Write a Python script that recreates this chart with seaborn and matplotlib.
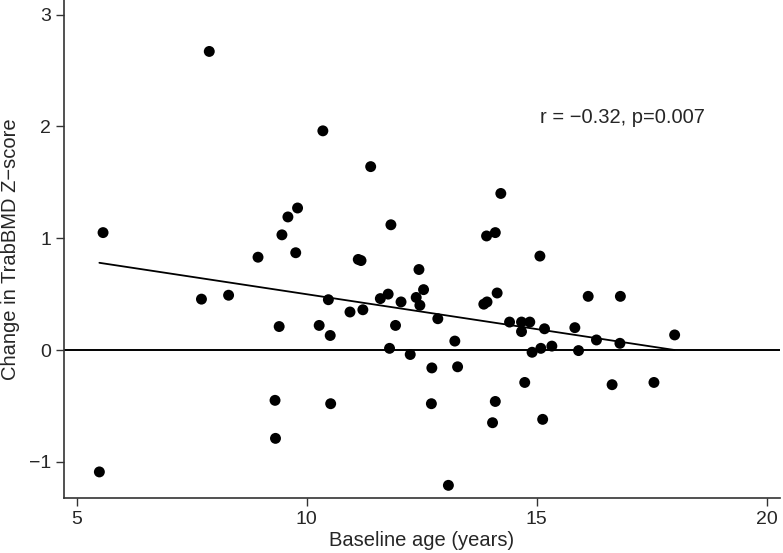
import matplotlib
matplotlib.use("Agg")
import matplotlib.pyplot as plt
import seaborn as sns
import pandas as pd

# === DATA ===
baseline_age = [5.49, 5.57, 7.71, 7.88, 8.30, 8.94, 9.31, 9.32, 9.40, 9.46,
                9.59, 9.76, 9.80, 10.27, 10.35, 10.47, 10.51, 10.52, 10.94, 11.12,
                11.18, 11.22, 11.39, 11.60, 11.77, 11.80, 11.83, 11.93, 12.05, 12.25,
                12.38, 12.44, 12.46, 12.54, 12.71, 12.72, 12.85, 13.08, 13.22, 13.28,
                13.85, 13.92, 13.91, 14.04, 14.10, 14.10, 14.14, 14.22, 14.41, 14.67,
                14.67, 14.74, 14.85, 14.90, 15.07, 15.09, 15.13, 15.17, 15.33, 15.83,
                15.91, 16.12, 16.30, 16.64, 16.81, 16.82, 17.55, 18.00]
zscore_change = [-1.09, 1.05, 0.455, 2.67, 0.49, 0.83, -0.45, -0.79, 0.21, 1.03,
                 1.19, 0.87, 1.27, 0.22, 1.96, 0.45, 0.13, -0.48, 0.34, 0.81,
                 0.80, 0.36, 1.64, 0.46, 0.50, 0.015, 1.12, 0.22, 0.43, -0.04,
                 0.47, 0.72, 0.40, 0.54, -0.48, -0.16, 0.28, -1.21, 0.08, -0.15,
                 0.41, 0.43, 1.02, -0.65, 1.05, -0.46, 0.51, 1.40, 0.25, 0.25,
                 0.165, -0.29, 0.25, -0.02, 0.84, 0.015, -0.62, 0.19, 0.035, 0.20,
                 -0.005, 0.48, 0.09, -0.31, 0.06, 0.48, -0.29, 0.135]

# fitted regression line end points
fit_age = [5.49, 18.0]
fit_change = [0.78, 0.0]

x_ticks = [5, 10, 15, 20]
y_ticks = [-1, 0, 1, 2, 3]
stats_label = "r = \u22120.32, p=0.007"

df = pd.DataFrame({"age": baseline_age, "change": zscore_change})
fit_df = pd.DataFrame({"age": fit_age, "change": fit_change})

# === STYLE ===
sns.set_style("ticks")
plt.rcParams["font.family"] = ["Liberation Sans", "DejaVu Sans"]
plt.rcParams["axes.unicode_minus"] = True

fig = plt.figure(figsize=(7.83, 5.53), dpi=100)
ax = fig.add_axes([0.0811, 0.0989, 0.915, 0.9011])

sns.scatterplot(data=df, x="age", y="change", color="black", s=62,
                edgecolor="none", ax=ax)
sns.lineplot(data=fit_df, x="age", y="change", color="black", linewidth=1.3, ax=ax)
ax.axhline(0, color="black", linewidth=1.4)

ax.text(15.07, 2.08, stats_label, ha="left", va="center", fontsize=14.5)

ax.set_xlim(4.71, 20.29)
ax.set_ylim(-1.326, 3.13)
ax.set_xticks(x_ticks)
ax.set_yticks(y_ticks)
ax.set_xlabel("Baseline age (years)", fontsize=14.5, labelpad=2)
ax.set_ylabel("Change in TrabBMD Z\u2212score", fontsize=14.5, labelpad=6)
ax.tick_params(axis="both", labelsize=14, length=6, width=1, color="#333333", pad=3)

sns.despine(ax=ax)
for side in ["left", "bottom"]:
    ax.spines[side].set_linewidth(1.2)
    ax.spines[side].set_color("#333333")

fig.savefig("out.png", dpi=100)
